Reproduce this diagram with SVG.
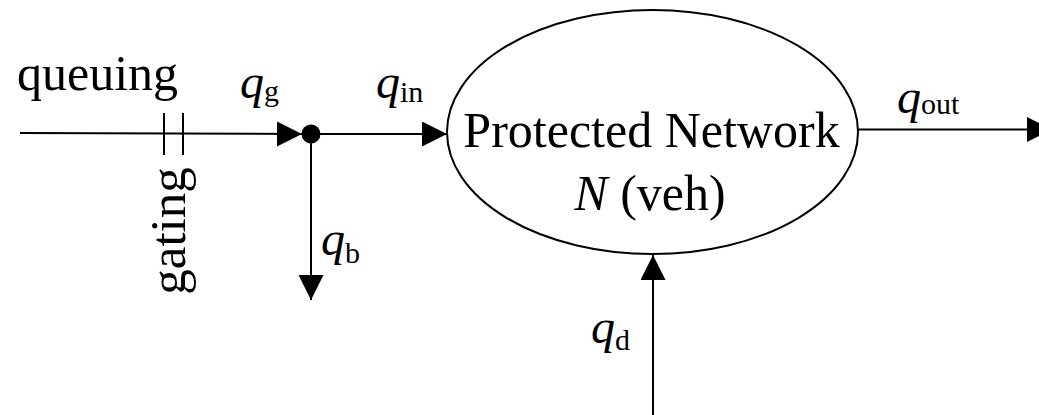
<svg xmlns="http://www.w3.org/2000/svg" width="1039" height="415" viewBox="0 0 1039 415" font-family="Liberation Serif, Times New Roman, serif">
<style>
.ln{stroke:#000;stroke-width:2;fill:none}
.it{font-style:italic}
</style>
<defs>
<marker id="arr" markerUnits="userSpaceOnUse" markerWidth="26" markerHeight="26" refX="25" refY="12.5" orient="auto" viewBox="0 0 26 26">
<path d="M0,0 L25,12.5 L0,25 z" fill="#000"/>
</marker>
</defs>
<rect width="1039" height="415" fill="#fff"/>
<g id="connectors">
<line class="ln" x1="20" y1="133" x2="302" y2="134" marker-end="url(#arr)"/>
<line class="ln" x1="311" y1="134" x2="311" y2="300" marker-end="url(#arr)"/>
<line class="ln" x1="318" y1="134" x2="447" y2="134" marker-end="url(#arr)"/>
<line class="ln" x1="858" y1="129.5" x2="1052" y2="129.5" marker-end="url(#arr)"/>
<line class="ln" x1="653" y1="415" x2="653" y2="255" marker-end="url(#arr)"/>
</g>
<g id="gating">
<line class="ln" x1="164" y1="113" x2="164" y2="155"/>
<line class="ln" x1="183" y1="113" x2="183" y2="155"/>
<text font-family="Liberation Serif, serif" font-size="51" text-anchor="middle" transform="translate(185,231) rotate(-90)">gating</text>
</g>
<g id="junction">
<circle cx="311" cy="134" r="9.5" fill="#000"/>
</g>
<g id="network">
<ellipse class="ln" cx="652.5" cy="132" rx="205.5" ry="122"/>
<text font-family="Liberation Serif, serif" font-size="50" x="651.5" y="147" text-anchor="middle">Protected Network</text>
<text font-family="Liberation Serif, serif" font-size="50" x="650" y="210" text-anchor="middle"><tspan class="it">N</tspan> (veh)</text>
</g>
<g id="labels" font-family="Liberation Serif, serif">
<text font-size="50" x="17" y="90">queuing</text>
<text x="240" y="98"><tspan class="it" font-size="48">q</tspan><tspan font-size="30" dy="3">g</tspan></text>
<text x="376" y="98"><tspan class="it" font-size="48">q</tspan><tspan font-size="30" dy="4">in</tspan></text>
<text x="321" y="255"><tspan class="it" font-size="48">q</tspan><tspan font-size="30" dy="8">b</tspan></text>
<text x="897" y="113"><tspan class="it" font-size="48">q</tspan><tspan font-size="30" dy="1">out</tspan></text>
<text x="591" y="343"><tspan class="it" font-size="48">q</tspan><tspan font-size="30" dy="7">d</tspan></text>
</g>
</svg>
